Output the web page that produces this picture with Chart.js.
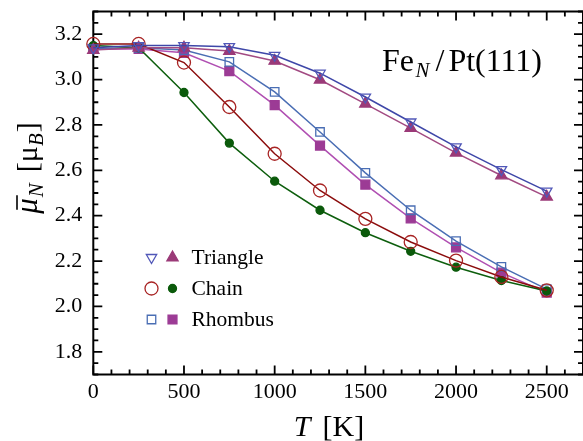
<!DOCTYPE html>
<html><head><meta charset="utf-8">
<script src="https://cdn.jsdelivr.net/npm/chart.js@4/dist/chart.umd.min.js"></script>
<style>html,body{margin:0;padding:0;background:#fff;}#wrap{width:583px;height:441px;}</style>
</head><body><div id="wrap"><canvas id="c" width="583" height="441"></canvas></div>
<script>
// ---- data ----
const temperatures = [0, 250, 500, 750, 1000, 1250, 1500, 1750, 2000, 2250, 2500];
const triangleOpen = [3.14, 3.15, 3.15, 3.145, 3.107, 3.028, 2.923, 2.813, 2.703, 2.603, 2.508];
const triangleFilled = [3.13, 3.14, 3.14, 3.126, 3.082, 2.999, 2.893, 2.786, 2.677, 2.577, 2.483];
const chainOpen = [3.157, 3.157, 3.075, 2.879, 2.673, 2.511, 2.386, 2.284, 2.202, 2.130, 2.071];
const chainFilled = [3.15, 3.14, 2.943, 2.720, 2.552, 2.424, 2.325, 2.243, 2.173, 2.114, 2.068];
const rhombusOpen = [3.135, 3.14, 3.13, 3.078, 2.946, 2.769, 2.589, 2.424, 2.288, 2.174, 2.076];
const rhombusFilled = [3.135, 3.135, 3.118, 3.037, 2.887, 2.709, 2.537, 2.388, 2.260, 2.149, 2.061];
const xTickValues = [0, 500, 1000, 1500, 2000, 2500];
const yTickValues = [1.8, 2.0, 2.2, 2.4, 2.6, 2.8, 3.0, 3.2];
const legendNames = ['Triangle', 'Chain', 'Rhombus'];

const SERIF = '"Liberation Serif", "Times New Roman", serif';
const pts = arr => temperatures.map((t, i) => ({x: t, y: arr[i]}));

function ds(label, arr, o) {
  return Object.assign({
    label, data: pts(arr), showLine: true, tension: 0, clip: false,
    borderWidth: 1.5, pointBorderWidth: 1.3, pointHoverRadius: 0
  }, o);
}
const datasets = [
  ds('Triangle (open)', triangleOpen, {borderColor: '#3e47a8', pointStyle: 'triangle', rotation: 180, pointRadius: 6,
     pointBorderColor: '#5057b8', pointBackgroundColor: 'rgba(0,0,0,0)'}),
  ds('Triangle (filled)', triangleFilled, {borderColor: '#a24a82', pointStyle: 'triangle', pointRadius: 6.5,
     pointBorderColor: '#9b3a78', pointBackgroundColor: '#9b3a78'}),
  ds('Chain (open)', chainOpen, {borderColor: '#8b0c0c', pointStyle: 'circle', pointRadius: 6.5,
     pointBorderColor: '#a82424', pointBackgroundColor: 'rgba(0,0,0,0)'}),
  ds('Chain (filled)', chainFilled, {borderColor: '#0d5e0d', pointStyle: 'circle', pointRadius: 4,
     pointBorderColor: '#0b5a0b', pointBackgroundColor: '#0b5a0b'}),
  ds('Rhombus (open)', rhombusOpen, {borderColor: '#4a6eb4', pointStyle: 'rect', pointRadius: 6,
     pointBorderColor: '#4a6eb4', pointBackgroundColor: 'rgba(0,0,0,0)'}),
  ds('Rhombus (filled)', rhombusFilled, {borderColor: '#b04fb2', pointStyle: 'rect', pointRadius: 6.3,
     pointBorderColor: '#9c3b95', pointBackgroundColor: '#9c3b95'})
];

function drawRich(ctx, segs, x, y, align) {
  let total = 0;
  segs.forEach(s => { ctx.font = s.font; s.w = ctx.measureText(s.t).width; total += s.w + (s.gap || 0); });
  let cx = align === 'center' ? x - total / 2 : x;
  ctx.textAlign = 'left'; ctx.textBaseline = 'alphabetic';
  segs.forEach(s => {
    cx += (s.gap || 0);
    ctx.font = s.font;
    ctx.fillText(s.t, cx, y + (s.dy || 0));
    s.x = cx;
    cx += s.w;
  });
  return segs;
}

const framePlugin = {
  id: 'frame',
  beforeDatasetsDraw(chart) {
    const {ctx, chartArea: a, scales: {x, y}} = chart;
    ctx.save();
    ctx.strokeStyle = '#000';
    ctx.lineWidth = 2;
    ctx.strokeRect(a.left, a.top, a.right - a.left, a.bottom - a.top);
    ctx.lineWidth = 1.8;
    ctx.beginPath();
    for (let v = 0; v <= 2700; v += 100) {
      const px = x.getPixelForValue(v);
      const len = (v % 500 === 0) ? 9 : 5;
      ctx.moveTo(px, a.bottom); ctx.lineTo(px, a.bottom - len);
      ctx.moveTo(px, a.top); ctx.lineTo(px, a.top + len);
    }
    for (let k = 34; k <= 66; k++) {
      const v = k * 0.05;
      const py = y.getPixelForValue(v);
      const len = (k % 4 === 0) ? 9 : 5;
      ctx.moveTo(a.left, py); ctx.lineTo(a.left + len, py);
      ctx.moveTo(a.right, py); ctx.lineTo(a.right - len, py);
    }
    ctx.stroke();
    ctx.restore();
  },
  afterDraw(chart) {
    const {ctx} = chart;
    ctx.save();
    ctx.fillStyle = '#000';
    // legend
    const rows = [[0, 1], [2, 3], [4, 5]];
    const rowY = [257.5, 288.5, 319.5];
    rows.forEach((pair, r) => {
      pair.forEach((di, j) => {
        const d = chart.data.datasets[di];
        const px = j === 0 ? 151.5 : 172.5;
        ctx.fillStyle = d.pointBackgroundColor;
        ctx.strokeStyle = d.pointBorderColor;
        ctx.lineWidth = d.pointBorderWidth;
        Chart.helpers.drawPoint(ctx, {pointStyle: d.pointStyle, radius: d.pointRadius, rotation: d.rotation || 0,
          borderWidth: d.pointBorderWidth}, px, rowY[r]);
      });
      ctx.fillStyle = '#000';
      ctx.font = '21.5px ' + SERIF;
      ctx.textAlign = 'left'; ctx.textBaseline = 'middle';
      ctx.fillText(legendNames[r], 191.5, rowY[r] + 1);
    });
    // annotation Fe_N / Pt(111)
    ctx.fillStyle = '#000';
    drawRich(ctx, [
      {t: 'Fe', font: '32px ' + SERIF},
      {t: 'N', font: 'italic 21px ' + SERIF, dy: 6, gap: 1.5},
      {t: '/', font: '32px ' + SERIF, gap: 6},
      {t: 'Pt(111)', font: '32px ' + SERIF, gap: 4}
    ], 382, 71, 'left');
    // x title
    drawRich(ctx, [
      {t: 'T', font: 'italic 30px ' + SERIF},
      {t: '[K]', font: '30px ' + SERIF, gap: 12}
    ], 329, 436, 'center');
    // y title (rotated)
    ctx.translate(37, 168);
    ctx.rotate(-Math.PI / 2);
    const segs = drawRich(ctx, [
      {t: 'μ', font: 'italic 31px ' + SERIF},
      {t: 'N', font: 'italic 21px ' + SERIF, dy: 6, gap: 1},
      {t: '[', font: '30px ' + SERIF, gap: 11},
      {t: 'μ', font: '30px ' + SERIF},
      {t: 'B', font: 'italic 21px ' + SERIF, dy: 6, gap: 0},
      {t: ']', font: '30px ' + SERIF, gap: 1}
    ], 0, 0, 'center');
    const m = segs[0];
    ctx.lineWidth = 1.6; ctx.strokeStyle = '#000';
    ctx.beginPath();
    ctx.moveTo(m.x + 4, -20); ctx.lineTo(m.x + m.w + 3, -20);
    ctx.stroke();
    ctx.restore();
  }
};

new Chart(document.getElementById('c'), {
  type: 'scatter',
  data: {datasets},
  options: {
    responsive: false, animation: false, devicePixelRatio: 1,
    layout: {autoPadding: false, padding: {left: 0, right: 0, top: 11.5, bottom: 0}},
    plugins: {legend: {display: false}, tooltip: {enabled: false}},
    events: [],
    scales: {
      x: {
        type: 'linear', min: 0, max: 2700,
        grid: {display: false, drawTicks: false}, border: {display: false},
        afterBuildTicks: s => { s.ticks = xTickValues.map(v => ({value: v})); },
        afterFit: s => { s.height = 66.5; s.paddingLeft = 0; s.paddingRight = 0; },
        ticks: {font: {family: SERIF, size: 22}, color: '#000', padding: 5, maxRotation: 0,
          callback: v => String(v)}
      },
      y: {
        type: 'linear', min: 1.7, max: 3.3,
        grid: {display: false, drawTicks: false}, border: {display: false},
        afterBuildTicks: s => { s.ticks = yTickValues.map(v => ({value: v})); },
        afterFit: s => { s.width = 93.3; s.paddingTop = 0; s.paddingBottom = 0; },
        ticks: {font: {family: SERIF, size: 22}, color: '#000', padding: 11,
          callback: v => Number(v).toFixed(1)}
      }
    }
  },
  plugins: [framePlugin]
});
</script></body></html>
